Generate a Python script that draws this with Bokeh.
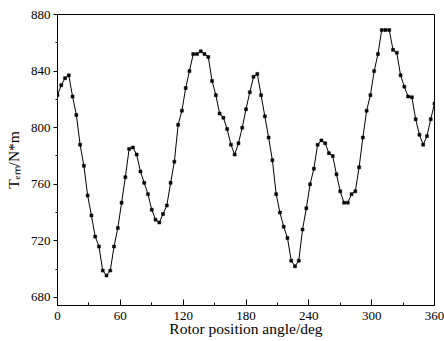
from bokeh.plotting import figure
from bokeh.models import Range1d, FixedTicker
from bokeh.embed import file_html
from bokeh.resources import INLINE

# Rotor position angle (deg)
angle = [0, 3.6, 7.2, 10.8, 14.4, 18, 21.6, 25.2, 28.8, 32.4, 36, 39.6, 43.2, 46.8, 50.4,
         54, 57.6, 61.2, 64.8, 68.4, 72, 75.6, 79.2, 82.8, 86.4, 90, 93.6, 97.2, 100.8,
         104.4, 108, 111.6, 115.2, 118.8, 122.4, 126, 129.6, 133.2, 136.8, 140.4, 144,
         147.6, 151.2, 154.8, 158.4, 162, 165.6, 169.2, 172.8, 176.4, 180, 183.6, 187.2,
         190.8, 194.4, 198, 201.6, 205.2, 208.8, 212.4, 216, 219.6, 223.2, 226.8, 230.4,
         234, 237.6, 241.2, 244.8, 248.4, 252, 255.6, 259.2, 262.8, 266.4, 270, 273.6,
         277.2, 280.8, 284.4, 288, 291.6, 295.2, 298.8, 302.4, 306, 309.6, 313.2, 316.8,
         320.4, 324, 327.6, 331.2, 334.8, 338.4, 342, 345.6, 349.2, 352.8, 356.4, 360]

# Electromagnetic torque (N*m)
torque = [823, 830, 835, 837, 822, 809, 788, 773, 752, 738, 723, 716, 699, 695.5, 699,
          716, 729, 747, 765, 785, 786, 781, 769, 761, 753, 742, 735, 733, 739, 745,
          761, 776, 802, 812, 828, 840, 852, 852, 854, 852, 850, 833, 823, 810, 807,
          799, 788, 781, 789, 800, 813, 825, 836, 838, 823, 808, 793, 777, 753, 740,
          730, 722, 706, 702, 706, 728, 743, 760, 771, 788, 791, 789, 782, 780, 767,
          755, 747, 747, 753, 755, 772, 793, 812, 823, 840, 852, 869, 869, 869, 855,
          853, 837, 829, 822, 821.5, 806, 795, 788, 794, 806, 817]

x_ticks = [0, 60, 120, 180, 240, 300, 360]
x_minor = [30, 90, 150, 210, 270, 330]
y_ticks = [680, 720, 760, 800, 840, 880]
y_minor = [700, 740, 780, 820, 860]

x_title = "Rotor position angle/deg"
y_title = "T\u2091\u2098/N*m"

FONT = "Liberation Serif"

p = figure(width=444, height=341, output_backend="svg", toolbar_location=None,
           x_range=Range1d(0, 360), y_range=Range1d(674.3, 880),
           min_border_left=57, min_border_right=10, min_border_top=14,
           min_border_bottom=36)
p.background_fill_color = "white"
p.border_fill_color = "white"
p.outline_line_color = "black"
p.outline_line_width = 1
p.grid.visible = False

p.line(angle, torque, line_color="black", line_width=1)
p.scatter(angle, torque, marker="square", size=3, fill_color="black", line_color="black",
          line_width=0.5)

xa = p.xaxis[0]
xa.ticker = FixedTicker(ticks=x_ticks, minor_ticks=x_minor)
xa.major_tick_in = 6
xa.major_tick_out = 0
xa.minor_tick_in = 3
xa.minor_tick_out = 0
xa.major_label_standoff = 6
xa.major_label_text_font = FONT
xa.major_label_text_font_size = "13px"
xa.major_label_text_color = "black"
xa.axis_line_color = "black"
xa.major_tick_line_color = "black"
xa.minor_tick_line_color = "black"
xa.axis_label = x_title
xa.axis_label_text_font = FONT
xa.axis_label_text_font_size = "15.5px"
xa.axis_label_text_font_style = "normal"
xa.axis_label_text_color = "black"
xa.axis_label_standoff = -3

ya = p.yaxis[0]
ya.ticker = FixedTicker(ticks=y_ticks, minor_ticks=y_minor)
ya.major_tick_in = 0
ya.major_tick_out = 4
ya.minor_tick_in = 0
ya.minor_tick_out = 2
ya.major_label_standoff = 3
ya.major_label_text_font = FONT
ya.major_label_text_font_size = "13px"
ya.major_label_text_color = "black"
ya.axis_line_color = "black"
ya.major_tick_line_color = "black"
ya.minor_tick_line_color = "black"
ya.axis_label = y_title
ya.axis_label_text_font = FONT
ya.axis_label_text_font_size = "15.5px"
ya.axis_label_text_font_style = "normal"
ya.axis_label_text_color = "black"
ya.axis_label_standoff = 6

open("out.html", "w").write(file_html(p, INLINE))
